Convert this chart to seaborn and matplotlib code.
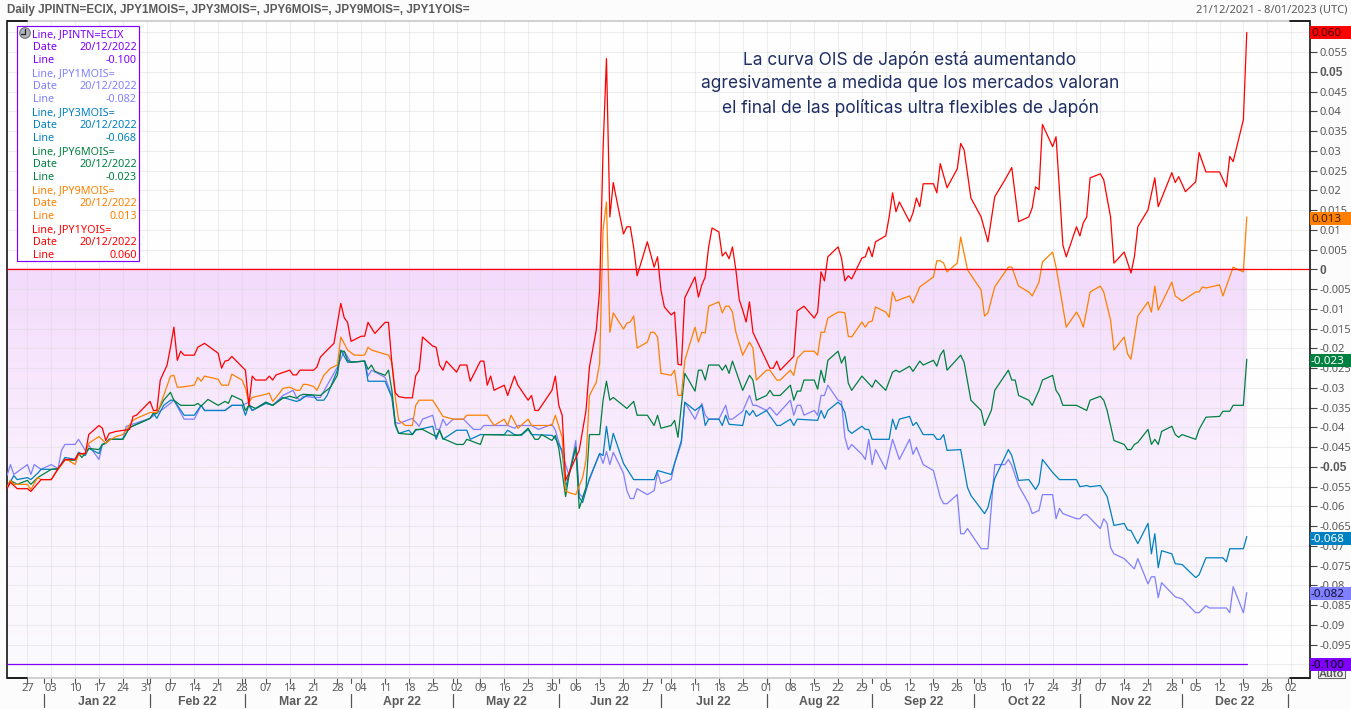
import numpy as np
import pandas as pd
import matplotlib
matplotlib.use("Agg")
import matplotlib.pyplot as plt
import matplotlib.dates as mdates
from matplotlib.patches import Rectangle, Circle
from matplotlib.transforms import blended_transform_factory
import seaborn as sns

START = pd.Timestamp("2021-12-21")
END = pd.Timestamp("2022-12-20")

series_names = ["JPINTN=ECIX", "JPY1MOIS=", "JPY3MOIS=", "JPY6MOIS=", "JPY9MOIS=", "JPY1YOIS="]
series_colors = ["#8000FF", "#8080FF", "#0080C0", "#008040", "#FF8000", "#FF0000"]
last_values = [-0.100, -0.082, -0.068, -0.023, 0.013, 0.060]
tag_text_colors = ["#000000", "#101030", "#FFFFFF", "#FFFFFF", "#402000", "#400000"]

# day = calendar days since 21/12/2021
jpintn_days = [0, 364]
jpintn_vals = [-0.1, -0.1]

m1_days = [0, 1, 2, 6, 7, 8, 10, 13, 15, 16, 17, 20, 21, 23, 24, 27, 28, 29, 30, 34, 35, 42, 44, 46, 48, 49, 52, 55, 57, 58, 63, 64, 66, 69, 71, 72, 76, 78, 81, 84, 85, 86, 87, 90, 92, 94, 97, 99, 101, 105, 106, 107, 111, 113, 114, 115, 119, 121, 122, 125, 126, 127, 128, 129, 131, 134, 137, 139, 140, 147, 149, 150, 154, 156, 160, 161, 163, 165, 167, 168, 169, 174, 175, 176, 177, 178, 181, 182, 183, 184, 185, 188, 190, 191, 192, 195, 196, 198, 199, 202, 204, 205, 206, 209, 211, 212, 213, 216, 218, 219, 220, 223, 224, 226, 230, 231, 232, 233, 234, 237, 238, 239, 240, 241, 244, 245, 246, 247, 248, 251, 252, 253, 254, 255, 258, 260, 262, 265, 266, 267, 269, 272, 274, 275, 276, 279, 280, 281, 282, 286, 288, 290, 293, 294, 295, 297, 300, 301, 303, 304, 307, 308, 309, 310, 314, 315, 316, 317, 321, 322, 323, 324, 325, 328, 331, 332, 335, 336, 337, 338, 339, 343, 345, 349, 350, 352, 353, 358, 359, 360, 363, 364]
m1_vals = [-0.0522, -0.0494, -0.0519, -0.0494, -0.0519, -0.0494, -0.0506, -0.0494, -0.0504, -0.0458, -0.0443, -0.0443, -0.0430, -0.0458, -0.0445, -0.0481, -0.0443, -0.0440, -0.0430, -0.0430, -0.0397, -0.0377, -0.0364, -0.0352, -0.0339, -0.0331, -0.0379, -0.0379, -0.0344, -0.0357, -0.0357, -0.0357, -0.0344, -0.0344, -0.0336, -0.0357, -0.0336, -0.0344, -0.0319, -0.0306, -0.0324, -0.0331, -0.0321, -0.0324, -0.0324, -0.0293, -0.0247, -0.0207, -0.0235, -0.0232, -0.0270, -0.0255, -0.0273, -0.0319, -0.0387, -0.0390, -0.0377, -0.0397, -0.0379, -0.0369, -0.0405, -0.0405, -0.0379, -0.0395, -0.0379, -0.0379, -0.0405, -0.0405, -0.0395, -0.0395, -0.0402, -0.0395, -0.0395, -0.0405, -0.0392, -0.0407, -0.0466, -0.0522, -0.0433, -0.0567, -0.0577, -0.0466, -0.0491, -0.0461, -0.0494, -0.0463, -0.0516, -0.0560, -0.0580, -0.0580, -0.0555, -0.0570, -0.0560, -0.0514, -0.0542, -0.0532, -0.0491, -0.0440, -0.0336, -0.0379, -0.0339, -0.0369, -0.0379, -0.0379, -0.0344, -0.0379, -0.0379, -0.0359, -0.0319, -0.0344, -0.0344, -0.0357, -0.0349, -0.0369, -0.0331, -0.0369, -0.0344, -0.0344, -0.0369, -0.0357, -0.0369, -0.0319, -0.0319, -0.0293, -0.0331, -0.0334, -0.0425, -0.0456, -0.0443, -0.0468, -0.0481, -0.0430, -0.0494, -0.0456, -0.0506, -0.0430, -0.0481, -0.0430, -0.0468, -0.0450, -0.0494, -0.0509, -0.0577, -0.0593, -0.0593, -0.0570, -0.0669, -0.0669, -0.0656, -0.0707, -0.0707, -0.0494, -0.0494, -0.0481, -0.0496, -0.0547, -0.0593, -0.0618, -0.0610, -0.0570, -0.0570, -0.0631, -0.0605, -0.0618, -0.0631, -0.0631, -0.0621, -0.0621, -0.0656, -0.0631, -0.0643, -0.0704, -0.0720, -0.0732, -0.0758, -0.0732, -0.0796, -0.0778, -0.0778, -0.0831, -0.0793, -0.0829, -0.0834, -0.0869, -0.0869, -0.0851, -0.0857, -0.0857, -0.0869, -0.0803, -0.0869, -0.0818]

m3_days = [0, 2, 3, 6, 7, 9, 10, 15, 17, 20, 21, 23, 24, 27, 28, 29, 30, 34, 36, 42, 43, 44, 46, 48, 49, 52, 55, 57, 58, 63, 64, 66, 69, 70, 71, 72, 76, 78, 81, 85, 86, 88, 90, 91, 93, 94, 97, 98, 100, 105, 106, 111, 113, 114, 115, 118, 119, 120, 125, 126, 127, 128, 132, 135, 136, 139, 146, 147, 149, 151, 153, 154, 160, 161, 163, 164, 167, 168, 169, 171, 174, 175, 176, 177, 178, 181, 184, 190, 191, 195, 196, 198, 199, 202, 204, 205, 206, 209, 210, 211, 212, 216, 217, 218, 219, 220, 223, 226, 227, 230, 231, 232, 238, 239, 240, 241, 244, 245, 246, 247, 248, 251, 252, 253, 254, 259, 260, 261, 262, 265, 266, 267, 269, 272, 273, 274, 275, 276, 280, 282, 283, 287, 288, 290, 294, 295, 297, 300, 302, 303, 304, 307, 309, 314, 315, 317, 318, 321, 323, 325, 328, 329, 330, 332, 335, 336, 337, 338, 339, 342, 343, 345, 349, 350, 352, 357, 358, 359, 363, 364]
m3_vals = [-0.0552, -0.0522, -0.0532, -0.0527, -0.0532, -0.0516, -0.0506, -0.0506, -0.0476, -0.0481, -0.0463, -0.0471, -0.0453, -0.0466, -0.0443, -0.0440, -0.0430, -0.0430, -0.0400, -0.0377, -0.0364, -0.0377, -0.0344, -0.0331, -0.0331, -0.0369, -0.0369, -0.0344, -0.0357, -0.0357, -0.0357, -0.0344, -0.0344, -0.0369, -0.0344, -0.0357, -0.0339, -0.0344, -0.0324, -0.0334, -0.0331, -0.0319, -0.0319, -0.0331, -0.0331, -0.0319, -0.0255, -0.0204, -0.0235, -0.0232, -0.0283, -0.0283, -0.0324, -0.0395, -0.0415, -0.0407, -0.0418, -0.0407, -0.0397, -0.0430, -0.0407, -0.0430, -0.0407, -0.0407, -0.0430, -0.0418, -0.0418, -0.0407, -0.0418, -0.0420, -0.0405, -0.0418, -0.0420, -0.0428, -0.0458, -0.0552, -0.0450, -0.0577, -0.0590, -0.0529, -0.0466, -0.0471, -0.0397, -0.0458, -0.0415, -0.0491, -0.0532, -0.0532, -0.0509, -0.0519, -0.0491, -0.0433, -0.0336, -0.0357, -0.0344, -0.0395, -0.0379, -0.0379, -0.0395, -0.0369, -0.0392, -0.0395, -0.0357, -0.0369, -0.0357, -0.0372, -0.0357, -0.0395, -0.0395, -0.0379, -0.0395, -0.0379, -0.0382, -0.0357, -0.0377, -0.0357, -0.0336, -0.0344, -0.0362, -0.0407, -0.0415, -0.0397, -0.0405, -0.0405, -0.0430, -0.0430, -0.0379, -0.0405, -0.0379, -0.0372, -0.0395, -0.0387, -0.0418, -0.0418, -0.0430, -0.0430, -0.0418, -0.0458, -0.0456, -0.0552, -0.0572, -0.0618, -0.0603, -0.0529, -0.0456, -0.0471, -0.0534, -0.0532, -0.0557, -0.0542, -0.0481, -0.0514, -0.0532, -0.0532, -0.0550, -0.0547, -0.0550, -0.0547, -0.0575, -0.0648, -0.0643, -0.0659, -0.0661, -0.0694, -0.0643, -0.0720, -0.0669, -0.0755, -0.0712, -0.0720, -0.0745, -0.0747, -0.0780, -0.0773, -0.0730, -0.0730, -0.0740, -0.0707, -0.0707, -0.0676]

m6_days = [0, 1, 3, 6, 7, 9, 13, 15, 17, 20, 21, 22, 24, 27, 28, 29, 30, 34, 36, 42, 43, 44, 46, 48, 49, 51, 55, 56, 57, 59, 60, 62, 64, 65, 66, 69, 70, 71, 73, 76, 78, 81, 83, 85, 86, 87, 92, 95, 97, 98, 99, 100, 101, 105, 106, 107, 108, 111, 112, 113, 114, 115, 119, 120, 122, 126, 127, 128, 132, 134, 135, 139, 140, 150, 151, 153, 155, 156, 157, 160, 161, 162, 164, 165, 167, 168, 170, 171, 174, 175, 176, 177, 178, 182, 184, 185, 188, 190, 191, 192, 195, 196, 197, 199, 202, 203, 204, 205, 206, 209, 210, 211, 212, 213, 216, 218, 219, 220, 223, 224, 225, 227, 230, 231, 232, 233, 234, 237, 238, 239, 240, 241, 244, 245, 246, 247, 248, 251, 254, 255, 258, 260, 261, 262, 265, 266, 268, 269, 272, 273, 274, 275, 276, 280, 281, 283, 286, 287, 289, 290, 294, 295, 296, 297, 300, 301, 303, 304, 307, 308, 309, 310, 314, 317, 318, 321, 322, 323, 325, 328, 329, 330, 331, 332, 335, 336, 337, 338, 339, 342, 343, 344, 345, 349, 350, 352, 356, 357, 359, 360, 363, 364]
m6_vals = [-0.0552, -0.0534, -0.0544, -0.0534, -0.0544, -0.0527, -0.0506, -0.0504, -0.0483, -0.0483, -0.0466, -0.0476, -0.0453, -0.0456, -0.0443, -0.0440, -0.0430, -0.0430, -0.0400, -0.0377, -0.0364, -0.0364, -0.0331, -0.0311, -0.0331, -0.0344, -0.0344, -0.0339, -0.0346, -0.0329, -0.0334, -0.0344, -0.0334, -0.0339, -0.0319, -0.0331, -0.0357, -0.0344, -0.0352, -0.0336, -0.0344, -0.0326, -0.0321, -0.0326, -0.0319, -0.0316, -0.0319, -0.0298, -0.0268, -0.0207, -0.0207, -0.0230, -0.0235, -0.0232, -0.0253, -0.0242, -0.0258, -0.0268, -0.0255, -0.0306, -0.0390, -0.0415, -0.0418, -0.0405, -0.0405, -0.0423, -0.0407, -0.0428, -0.0443, -0.0443, -0.0430, -0.0443, -0.0418, -0.0420, -0.0418, -0.0402, -0.0430, -0.0430, -0.0418, -0.0433, -0.0420, -0.0453, -0.0575, -0.0522, -0.0450, -0.0605, -0.0552, -0.0418, -0.0418, -0.0331, -0.0283, -0.0331, -0.0324, -0.0352, -0.0334, -0.0369, -0.0369, -0.0395, -0.0369, -0.0402, -0.0395, -0.0382, -0.0425, -0.0263, -0.0308, -0.0255, -0.0255, -0.0280, -0.0242, -0.0242, -0.0255, -0.0242, -0.0263, -0.0232, -0.0306, -0.0268, -0.0280, -0.0331, -0.0319, -0.0306, -0.0319, -0.0319, -0.0293, -0.0331, -0.0308, -0.0308, -0.0280, -0.0280, -0.0303, -0.0255, -0.0286, -0.0230, -0.0207, -0.0237, -0.0220, -0.0288, -0.0306, -0.0270, -0.0298, -0.0280, -0.0306, -0.0260, -0.0255, -0.0260, -0.0245, -0.0258, -0.0232, -0.0242, -0.0230, -0.0245, -0.0217, -0.0204, -0.0255, -0.0217, -0.0235, -0.0331, -0.0357, -0.0395, -0.0357, -0.0306, -0.0255, -0.0280, -0.0280, -0.0319, -0.0331, -0.0344, -0.0306, -0.0280, -0.0268, -0.0306, -0.0319, -0.0344, -0.0344, -0.0357, -0.0331, -0.0321, -0.0331, -0.0357, -0.0433, -0.0443, -0.0456, -0.0456, -0.0443, -0.0438, -0.0405, -0.0443, -0.0430, -0.0443, -0.0410, -0.0397, -0.0418, -0.0425, -0.0418, -0.0430, -0.0405, -0.0374, -0.0372, -0.0359, -0.0359, -0.0344, -0.0344, -0.0227]

m9_days = [0, 1, 2, 6, 7, 9, 10, 13, 15, 17, 18, 20, 21, 23, 24, 27, 29, 30, 32, 34, 37, 38, 42, 44, 45, 48, 49, 50, 51, 55, 56, 57, 58, 62, 63, 65, 66, 69, 70, 71, 72, 76, 77, 78, 80, 81, 83, 85, 86, 87, 88, 90, 91, 93, 95, 97, 98, 100, 102, 105, 106, 107, 112, 113, 114, 115, 117, 119, 120, 121, 125, 128, 131, 134, 135, 141, 143, 146, 147, 148, 150, 153, 154, 160, 161, 163, 164, 165, 167, 169, 170, 171, 173, 174, 175, 176, 177, 178, 181, 182, 183, 184, 185, 188, 189, 190, 191, 192, 195, 196, 197, 198, 199, 202, 203, 204, 205, 206, 209, 210, 211, 212, 213, 214, 216, 218, 219, 220, 223, 224, 226, 227, 230, 231, 232, 234, 237, 238, 239, 240, 241, 244, 245, 246, 247, 248, 251, 252, 253, 254, 255, 258, 259, 260, 261, 265, 266, 268, 272, 273, 274, 275, 276, 279, 280, 282, 286, 287, 288, 290, 294, 295, 297, 300, 301, 303, 304, 307, 308, 309, 311, 314, 315, 316, 318, 321, 322, 324, 325, 328, 329, 330, 332, 335, 336, 337, 338, 342, 343, 345, 349, 350, 351, 352, 356, 357, 360, 361, 363, 364]
m9_vals = [-0.0552, -0.0534, -0.0544, -0.0544, -0.0557, -0.0527, -0.0532, -0.0532, -0.0506, -0.0483, -0.0483, -0.0494, -0.0468, -0.0466, -0.0440, -0.0423, -0.0440, -0.0433, -0.0423, -0.0418, -0.0382, -0.0377, -0.0362, -0.0362, -0.0344, -0.0270, -0.0268, -0.0298, -0.0298, -0.0293, -0.0273, -0.0283, -0.0270, -0.0278, -0.0293, -0.0293, -0.0265, -0.0280, -0.0300, -0.0337, -0.0324, -0.0316, -0.0313, -0.0334, -0.0313, -0.0301, -0.0298, -0.0306, -0.0306, -0.0291, -0.0291, -0.0296, -0.0306, -0.0268, -0.0250, -0.0242, -0.0171, -0.0204, -0.0217, -0.0217, -0.0197, -0.0204, -0.0217, -0.0235, -0.0324, -0.0382, -0.0395, -0.0395, -0.0344, -0.0331, -0.0331, -0.0372, -0.0379, -0.0379, -0.0369, -0.0369, -0.0395, -0.0379, -0.0395, -0.0369, -0.0402, -0.0379, -0.0395, -0.0395, -0.0369, -0.0425, -0.0560, -0.0565, -0.0570, -0.0527, -0.0483, -0.0319, -0.0286, -0.0237, 0.0100, 0.0171, -0.0159, -0.0110, -0.0151, -0.0136, -0.0133, -0.0118, -0.0199, -0.0184, -0.0159, -0.0159, -0.0171, -0.0263, -0.0268, -0.0255, -0.0319, -0.0319, -0.0230, -0.0146, -0.0184, -0.0159, -0.0161, -0.0093, -0.0082, -0.0110, -0.0093, -0.0093, -0.0108, -0.0159, -0.0217, -0.0184, -0.0199, -0.0280, -0.0255, -0.0255, -0.0280, -0.0280, -0.0255, -0.0268, -0.0225, -0.0207, -0.0207, -0.0217, -0.0159, -0.0159, -0.0123, -0.0108, -0.0108, -0.0110, -0.0169, -0.0171, -0.0133, -0.0146, -0.0133, -0.0131, -0.0095, -0.0108, -0.0121, -0.0057, -0.0080, -0.0067, -0.0085, -0.0044, -0.0019, 0.0022, 0.0022, 0.0016, -0.0006, 0.0016, 0.0082, -0.0001, -0.0052, -0.0118, -0.0110, -0.0044, 0.0006, 0.0006, -0.0042, -0.0057, -0.0067, -0.0032, 0.0019, 0.0044, 0.0006, -0.0044, -0.0146, -0.0108, -0.0123, -0.0146, -0.0057, -0.0042, -0.0057, -0.0128, -0.0204, -0.0171, -0.0214, -0.0227, -0.0118, -0.0082, -0.0108, -0.0042, -0.0103, -0.0032, -0.0067, -0.0080, -0.0057, -0.0057, -0.0044, -0.0047, -0.0039, -0.0067, 0.0006, 0.0001, -0.0006, 0.0133]

y1_days = [0, 1, 3, 6, 7, 10, 13, 15, 17, 20, 21, 23, 24, 27, 28, 29, 30, 32, 36, 37, 38, 42, 43, 44, 45, 47, 48, 49, 50, 51, 52, 55, 56, 58, 62, 63, 64, 65, 66, 70, 71, 72, 73, 76, 77, 78, 79, 83, 84, 85, 86, 90, 91, 92, 94, 96, 97, 98, 99, 100, 101, 104, 105, 106, 108, 111, 112, 113, 114, 115, 117, 119, 120, 121, 122, 125, 126, 127, 128, 129, 132, 133, 135, 136, 139, 140, 141, 142, 143, 146, 147, 149, 150, 153, 154, 155, 156, 160, 161, 162, 163, 164, 168, 170, 171, 173, 174, 175, 176, 177, 178, 179, 181, 182, 183, 184, 185, 188, 190, 191, 192, 193, 195, 196, 197, 198, 199, 202, 203, 204, 205, 206, 207, 209, 210, 211, 212, 213, 214, 215, 216, 217, 218, 219, 224, 225, 226, 227, 231, 232, 234, 237, 238, 239, 240, 241, 244, 245, 246, 247, 248, 251, 252, 253, 254, 255, 258, 259, 260, 261, 262, 265, 266, 267, 268, 269, 272, 273, 274, 276, 279, 280, 281, 283, 286, 288, 290, 293, 295, 297, 300, 301, 302, 303, 304, 307, 308, 309, 310, 311, 314, 315, 316, 317, 318, 321, 322, 324, 325, 328, 330, 331, 332, 335, 337, 338, 342, 343, 344, 346, 349, 350, 352, 356, 358, 359, 360, 363, 364]
y1_vals = [-0.0555, -0.0539, -0.0555, -0.0555, -0.0562, -0.0532, -0.0532, -0.0504, -0.0481, -0.0481, -0.0466, -0.0466, -0.0418, -0.0395, -0.0402, -0.0433, -0.0415, -0.0410, -0.0405, -0.0372, -0.0369, -0.0334, -0.0357, -0.0357, -0.0280, -0.0242, -0.0197, -0.0146, -0.0230, -0.0207, -0.0217, -0.0217, -0.0197, -0.0187, -0.0212, -0.0250, -0.0232, -0.0230, -0.0220, -0.0255, -0.0344, -0.0270, -0.0280, -0.0280, -0.0270, -0.0280, -0.0267, -0.0255, -0.0267, -0.0267, -0.0255, -0.0255, -0.0247, -0.0222, -0.0204, -0.0187, -0.0136, -0.0086, -0.0122, -0.0134, -0.0182, -0.0169, -0.0169, -0.0134, -0.0162, -0.0134, -0.0134, -0.0238, -0.0312, -0.0322, -0.0325, -0.0325, -0.0269, -0.0255, -0.0171, -0.0194, -0.0197, -0.0242, -0.0255, -0.0232, -0.0260, -0.0242, -0.0242, -0.0283, -0.0232, -0.0232, -0.0293, -0.0270, -0.0306, -0.0293, -0.0319, -0.0270, -0.0293, -0.0331, -0.0319, -0.0357, -0.0357, -0.0306, -0.0270, -0.0344, -0.0369, -0.0534, -0.0458, -0.0357, -0.0247, -0.0154, -0.0052, 0.0303, 0.0534, 0.0133, 0.0220, 0.0176, 0.0090, 0.0108, 0.0108, 0.0055, -0.0016, 0.0070, 0.0006, 0.0032, -0.0052, -0.0095, -0.0115, -0.0108, -0.0240, -0.0242, -0.0072, -0.0019, -0.0070, -0.0039, -0.0019, 0.0057, 0.0105, 0.0095, 0.0034, 0.0044, 0.0027, 0.0057, -0.0001, -0.0077, -0.0103, -0.0133, -0.0082, -0.0159, -0.0250, -0.0250, -0.0232, -0.0255, -0.0220, -0.0105, -0.0093, -0.0123, -0.0108, -0.0006, -0.0029, 0.0032, 0.0057, 0.0029, -0.0029, -0.0016, -0.0024, 0.0029, 0.0032, 0.0057, 0.0032, 0.0070, 0.0085, 0.0133, 0.0194, 0.0146, 0.0171, 0.0121, 0.0143, 0.0181, 0.0159, 0.0217, 0.0217, 0.0194, 0.0268, 0.0207, 0.0255, 0.0319, 0.0303, 0.0181, 0.0133, 0.0070, 0.0184, 0.0227, 0.0258, 0.0121, 0.0133, 0.0156, 0.0209, 0.0202, 0.0367, 0.0311, 0.0336, 0.0202, 0.0062, 0.0032, 0.0108, 0.0085, 0.0118, 0.0133, 0.0232, 0.0242, 0.0227, 0.0133, 0.0016, 0.0044, -0.0009, 0.0032, 0.0108, 0.0151, 0.0232, 0.0159, 0.0245, 0.0220, 0.0235, 0.0197, 0.0222, 0.0296, 0.0247, 0.0247, 0.0209, 0.0286, 0.0273, 0.0379, 0.0600]

month_labels = ["Jan 22", "Feb 22", "Mar 22", "Apr 22", "May 22", "Jun 22", "Jul 22", "Aug 22", "Sep 22", "Oct 22", "Nov 22", "Dec 22"]
note_lines = ["La curva OIS de Japón está aumentando",
              "agresivamente a medida que los mercados valoran",
              "el final de las políticas ultra flexibles de Japón"]
header = "Daily JPINTN=ECIX, JPY1MOIS=, JPY3MOIS=, JPY6MOIS=, JPY9MOIS=, JPY1YOIS="
date_span = "21/12/2021 - 8/01/2023 (UTC)"

W, H = 1351, 709
GREY = "#5A5A5A"
BOLD_FONT = ["Liberation Sans", "DejaVu Sans"]

sns.set_theme(style="white")
plt.rcParams["font.family"] = ["Noto Sans", "DejaVu Sans"]


def make_frame(name, days, vals):
    return pd.DataFrame({"date": START + pd.to_timedelta(days, unit="D"), "value": vals, "series": name})


all_days = [jpintn_days, m1_days, m3_days, m6_days, m9_days, y1_days]
all_vals = [jpintn_vals, m1_vals, m3_vals, m6_vals, m9_vals, y1_vals]
df = pd.concat([make_frame(n, d, v) for n, d, v in zip(series_names, all_days, all_vals)])

fig = plt.figure(figsize=(W / 100, H / 100), dpi=100, facecolor="#FCFCFC")

# sits under the main axes so the purple tag hides most of the Auto button
under = fig.add_axes([0, 0, 1, 1], facecolor="none", zorder=-1)
under.set_xlim(0, W)
under.set_ylim(H, 0)
under.axis("off")
under.add_patch(Rectangle((1318, 669), 27, 9, facecolor="#F4F4F4", edgecolor="#666666", lw=0.8))
under.text(1331.5, 674, "Auto", ha="center", va="center", fontsize=8, color=GREY, family=BOLD_FONT, fontweight="bold")

ax = fig.add_axes([7 / W, 1 - 677.5 / H, 1303 / W, 656.5 / H], facecolor="#FEFEFE")

# purple gradient between the zero line and the policy rate
grad = np.linspace(0, 1, 200).reshape(-1, 1)
grad_cmap = matplotlib.colors.LinearSegmentedColormap.from_list("fade", ["#F3DBFB", "#F8E9FD", "#FAF5FD", "#FBFAFD"])
ax.imshow(grad, cmap=grad_cmap, aspect="auto", zorder=0,
          extent=[mdates.date2num(START), mdates.date2num(END), -0.1, 0.0], origin="upper")

sns.lineplot(data=df, x="date", y="value", hue="series", hue_order=series_names,
             palette=dict(zip(series_names, series_colors)), estimator=None, sort=False,
             legend=False, linewidth=0.9, ax=ax, zorder=3)
ax.axhline(0, color="#FF0000", lw=0.9, zorder=3)

ax.set_xlim(mdates.date2num(START), mdates.date2num(START) + 1303 / 3.406)
ax.set_ylim(-0.1033, 0.0629)
ax.set_xlabel("")
ax.set_ylabel("")

# right axis, every 0.005
y_ticks = np.round(np.arange(-0.1, 0.0601, 0.005), 3)
ax.yaxis.tick_right()
ax.set_yticks(y_ticks)
ax.set_yticklabels([f"{v:g}" for v in y_ticks])
ax.tick_params(axis="y", length=5, width=0.8, color="#444444", pad=2, labelsize=8, labelcolor=GREY)
for lab, v in zip(ax.get_yticklabels(), y_ticks):
    if abs(v * 100) % 5 < 1e-6:
        lab.set_fontweight("bold")
        lab.set_family(BOLD_FONT)
        lab.set_fontsize(8.6)

# weekly ticks on Mondays, short marks on month starts too
mondays = pd.date_range("2021-12-27", "2023-01-02", freq="W-MON")
month_starts = pd.date_range("2022-01-01", "2023-01-01", freq="MS")
ax.set_xticks(mondays)
ax.set_xticklabels([d.strftime("%d") for d in mondays])
ax.tick_params(axis="x", length=4, width=0.8, color="#555555", pad=0, labelsize=8, labelcolor=GREY, bottom=True)
ax.grid(True, axis="both", color="#D8D8D8", alpha=0.42, lw=0.8)

xt = ax.get_xaxis_transform()
for d in month_starts:
    ax.plot([d, d], [0, -0.0085], transform=xt, color="#555555", lw=0.8, clip_on=False, zorder=1)
    ax.plot([d, d], [-0.0255, -0.0455], transform=xt, color="#555555", lw=0.9, clip_on=False, zorder=1)
for i, lab in enumerate(month_labels):
    mid = month_starts[i] + (month_starts[i + 1] - month_starts[i]) / 2
    ax.text(mid, -0.0375, lab, transform=xt, ha="center", va="center", fontsize=8.8, fontweight="bold",
            color=GREY, family=BOLD_FONT)

for side in ["top", "bottom"]:
    ax.spines[side].set_color("#C4C4C4")
    ax.spines[side].set_linewidth(1.1)
for side in ["left", "right"]:
    ax.spines[side].set_color("black")
    ax.spines[side].set_linewidth(1.1)
for x0, x1 in [(0, 20 / 1303), (1283 / 1303, 1)]:
    for y0 in [0, 1]:
        ax.plot([x0, x1], [y0, y0], transform=ax.transAxes, color="black", lw=1.2, clip_on=False, zorder=4)

# last value tags on the right axis
tag_tr = blended_transform_factory(ax.transAxes, ax.transData)
for i in range(len(series_names)):
    val = last_values[i]
    ax.add_patch(Rectangle((1, val - 0.00165), 41 / 1303, 0.0033, transform=tag_tr, facecolor=series_colors[i],
                           edgecolor="none", clip_on=False, zorder=6))
    ax.text(1 + 1 / 1303, val, f"{val:.3f}", transform=tag_tr, ha="left", va="center_baseline", fontsize=8.4,
            color=tag_text_colors[i], zorder=7, clip_on=False)

# overlay in pixel coordinates for the header, legend and note
ov = fig.add_axes([0, 0, 1, 1], facecolor="none", zorder=5)
ov.set_xlim(0, W)
ov.set_ylim(H, 0)
ov.axis("off")

ov.text(7, 10.5, header, ha="left", va="center", fontsize=8.35, fontweight="bold", color=GREY, family=BOLD_FONT)
ov.text(1347, 10.5, date_span, ha="right", va="center", fontsize=8, color=GREY)

ov.add_patch(Rectangle((16.5, 25.5), 122, 235.5, facecolor="white", edgecolor="#8000FF", lw=0.85))
row_y = 37
for k in range(6):
    c = series_colors[k]
    ov.text(32.5, row_y, f"Line, {series_names[k]}", ha="left", va="baseline", fontsize=7.8, color=c)
    ov.text(32.5, row_y + 13, "Date", ha="left", va="baseline", fontsize=7.8, color=c)
    ov.text(137, row_y + 13, "20/12/2022", ha="right", va="baseline", fontsize=7.8, color=c)
    ov.text(32.5, row_y + 26, "Line", ha="left", va="baseline", fontsize=7.8, color=c)
    ov.text(137, row_y + 26, f"{last_values[k]:.3f}", ha="right", va="baseline", fontsize=7.8, color=c)
    row_y += 39
ov.add_patch(Circle((25, 33), 5.3, facecolor="#B0B4BC", edgecolor="#70747C", lw=0.8))
ov.plot([25, 25, 21], [29, 34, 34], color="#222222", lw=0.9)

for k, line in enumerate(note_lines):
    ov.text(910, 60 + 24 * k, line, ha="center", va="center", fontsize=12.5, color="#1F2E63",
            family=["Inter", "DejaVu Sans"])

fig.savefig("out.png", dpi=100, facecolor=fig.get_facecolor())
